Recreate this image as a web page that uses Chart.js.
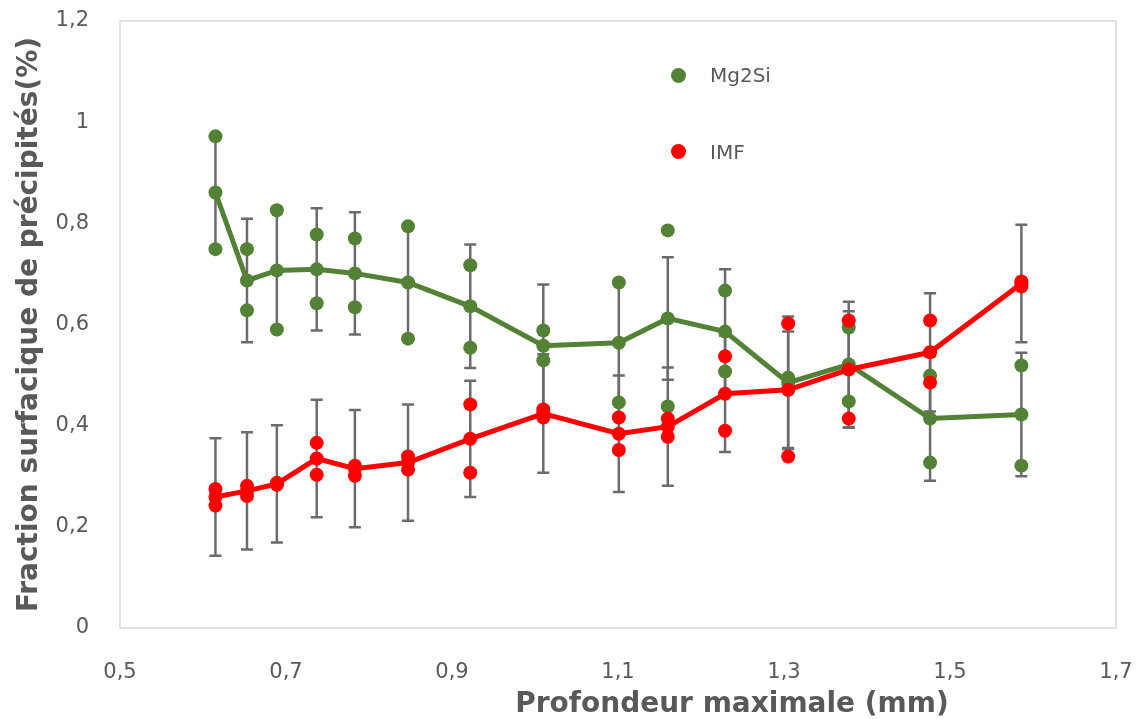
<!DOCTYPE html>
<html>
<head>
<meta charset="utf-8">
<script src="https://cdn.jsdelivr.net/npm/chart.js@4/dist/chart.umd.min.js"></script>
<style>
  html, body { margin: 0; padding: 0; background: #fff; }
  #wrap { position: relative; width: 1141px; height: 719px; }
  .leg { position: absolute; font-family: 'DejaVu Sans', sans-serif; font-size: 20px; color: #595959; line-height: 20px; }
  .dot { position: absolute; width: 15px; height: 15px; border-radius: 50%; }
  #xtitle { position: absolute; left: 732px; top: 689px; transform: translateX(-50%); white-space: nowrap;
            font-family: 'DejaVu Sans', sans-serif; font-weight: bold; font-size: 28px; line-height: 28px; color: #595959; }
</style>
</head>
<body>
<div id="wrap">
  <canvas id="my-chart" width="1141" height="719"></canvas>
  <span class="dot" style="left:671px;top:68px;background:#538135"></span>
  <span class="leg" style="left:710px;top:65px">Mg2Si</span>
  <span class="dot" style="left:671px;top:144px;background:#ff0000"></span>
  <span class="leg" style="left:710px;top:142px">IMF</span>
  <div id="xtitle">Profondeur maximale (mm)</div>
</div>
<script>
const depth = [0.615, 0.653, 0.689, 0.737, 0.783, 0.847, 0.922, 1.010, 1.101, 1.160, 1.229, 1.305, 1.378, 1.476, 1.586];

// Mg2Si: mean, error, individual measures
const mgMean = [0.861, 0.687, 0.707, 0.709, 0.701, 0.683, 0.636, 0.558, 0.564, 0.612, 0.586, 0.485, 0.521, 0.414, 0.422];
const mgErr = [0.112, 0.122, 0.118, 0.121, 0.121, 0.111, 0.122, 0.121, 0.119, 0.121, 0.123, 0.131, 0.124, 0.123, 0.122];
const mgHigh = [0.972, 0.749, 0.826, 0.778, 0.770, 0.794, 0.717, 0.588, 0.683, 0.786, 0.667, 0.495, 0.594, 0.499, 0.519];
const mgLow = [0.749, 0.628, 0.590, 0.642, 0.634, 0.572, 0.554, 0.529, 0.446, 0.438, 0.507, 0.471, 0.448, 0.327, 0.321];

// IMF: mean, error, individual measures
const imfMean = [0.259, 0.271, 0.285, 0.335, 0.315, 0.327, 0.374, 0.424, 0.384, 0.398, 0.463, 0.471, 0.511, 0.545, 0.681];
const imfErr = [0.116, 0.116, 0.116, 0.116, 0.116, 0.115, 0.115, 0.117, 0.115, 0.117, 0.115, 0.115, 0.115, 0.117, 0.116];
const imfHigh = [0.275, 0.281, 0.287, 0.366, 0.321, 0.339, 0.442, 0.432, 0.416, 0.414, 0.537, 0.602, 0.608, 0.608, 0.685];
const imfLow = [0.242, 0.261, 0.283, 0.303, 0.301, 0.313, 0.307, 0.416, 0.352, 0.378, 0.390, 0.339, 0.414, 0.485, 0.675];

const xTicks = [0.5, 0.7, 0.9, 1.1, 1.3, 1.5, 1.7];
const yTicks = [0, 0.2, 0.4, 0.6, 0.8, 1, 1.2];

const green = '#538135';
const red = '#ff0000';
const textGray = '#595959';

const pts = (vals) => depth.map((d, i) => ({ x: d, y: vals[i] }));
const comma = (v) => String(Math.round(v * 10) / 10).replace('.', ',');

const errorBars = {
  id: 'errorBars',
  beforeDatasetsDraw(chart) {
    const { ctx, scales: { x, y } } = chart;
    ctx.save();
    ctx.strokeStyle = '#6b6b6b';
    ctx.lineWidth = 2.5;
    [[mgMean, mgErr], [imfMean, imfErr]].forEach(([m, e]) => {
      depth.forEach((d, i) => {
        const px = x.getPixelForValue(d);
        const top = y.getPixelForValue(m[i] + e[i]);
        const bot = y.getPixelForValue(m[i] - e[i]);
        ctx.beginPath();
        ctx.moveTo(px, top); ctx.lineTo(px, bot);
        ctx.moveTo(px - 6, top); ctx.lineTo(px + 6, top);
        ctx.moveTo(px - 6, bot); ctx.lineTo(px + 6, bot);
        ctx.stroke();
      });
    });
    ctx.restore();
  }
};

// plot frame + x tick labels placed below the frame
const plotBox = {
  id: 'plotBox',
  beforeDatasetsDraw(chart) {
    const { ctx, chartArea: a, scales: { x } } = chart;
    ctx.save();
    ctx.strokeStyle = '#d9d9d9';
    ctx.lineWidth = 1.5;
    ctx.strokeRect(a.left, a.top, a.right - a.left, a.bottom - a.top);
    ctx.fillStyle = textGray;
    ctx.font = '21px "DejaVu Sans"';
    ctx.textAlign = 'center';
    ctx.textBaseline = 'middle';
    xTicks.forEach(v => ctx.fillText(comma(v), x.getPixelForValue(v), a.bottom + 45));
    ctx.restore();
  }
};

const ctx = document.getElementById('my-chart');
const myChart = new Chart(ctx, {
  type: 'scatter',
  data: {
    datasets: [
      {
        label: 'Mg2Si moyenne',
        type: 'line',
        data: pts(mgMean),
        borderColor: green,
        backgroundColor: green,
        borderWidth: 5,
        pointRadius: 7,
        pointBorderWidth: 0,
        tension: 0,
        order: 2
      },
      {
        label: 'IMF moyenne',
        type: 'line',
        data: pts(imfMean),
        borderColor: red,
        backgroundColor: red,
        borderWidth: 5,
        pointRadius: 7,
        pointBorderWidth: 0,
        tension: 0,
        order: 1
      },
      {
        label: 'Mg2Si',
        data: pts(mgHigh).concat(pts(mgLow)),
        backgroundColor: green,
        borderColor: green,
        pointRadius: 7,
        pointBorderWidth: 0,
        order: 4
      },
      {
        label: 'IMF',
        data: pts(imfHigh).concat(pts(imfLow)),
        backgroundColor: red,
        borderColor: red,
        pointRadius: 7,
        pointBorderWidth: 0,
        order: 3
      }
    ]
  },
  options: {
    responsive: false,
    animation: false,
    layout: { padding: { left: 0, top: 21, right: 25, bottom: 0 } },
    plugins: {
      legend: { display: false },
      tooltip: { enabled: false }
    },
    scales: {
      x: {
        type: 'linear',
        min: 0.5,
        max: 1.7,
        afterBuildTicks: (s) => { s.ticks = xTicks.map(v => ({ value: v })); },
        afterFit: (s) => { s.height = 91; s.paddingLeft = 0; s.paddingRight = 0; },
        grid: { display: false, drawTicks: false },
        border: { display: false },
        ticks: { display: false }
      },
      y: {
        min: 0,
        max: 1.2,
        afterBuildTicks: (s) => { s.ticks = yTicks.map(v => ({ value: v })); },
        afterFit: (s) => { s.width = 120; s.paddingTop = 0; s.paddingBottom = 0; },
        grid: { display: false, drawTicks: false },
        border: { display: false },
        ticks: {
          padding: 31,
          color: textGray,
          font: { family: 'DejaVu Sans', size: 21 },
          callback: (v) => comma(v)
        },
        title: {
          display: true,
          text: 'Fraction surfacique de précipités(%)',
          color: textGray,
          font: { family: 'DejaVu Sans', size: 28, weight: 'bold' },
          padding: { top: 13, bottom: 0 }
        }
      }
    }
  },
  plugins: [errorBars, plotBox]
});
</script>
</body>
</html>
